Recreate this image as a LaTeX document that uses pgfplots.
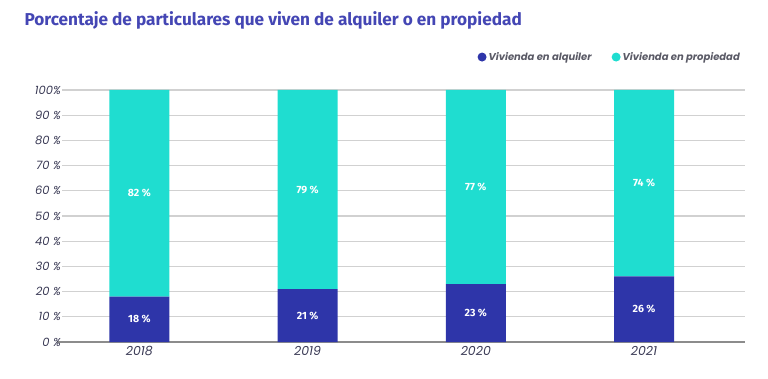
\documentclass[border=0pt]{standalone}
\usepackage{pgfplots}
\pgfplotsset{compat=1.18}
\usepackage{fontspec}
\setmainfont{Poppins}
\newfontfamily\titlefont{Fira Sans}
\newfontfamily\labfont{Fira Sans}
\definecolor{darkb}{HTML}{2E35A9}
\definecolor{tealc}{HTML}{1FDDD0}
\definecolor{titleblue}{HTML}{4446B4}
\definecolor{tickc}{HTML}{3A3A55}
\definecolor{legc}{HTML}{5A5A66}
\tikzset{vlab/.style={text=white, font=\labfont\bfseries\fontsize{10.5}{12}\selectfont}}
\begin{document}
\begin{tikzpicture}
\path (0,0) rectangle (768pt,378pt);
\node[anchor=west, text=titleblue, font=\titlefont\bfseries\fontsize{17.2}{20}\selectfont] at (21pt,358pt) {Porcentaje de particulares que viven de alquiler o en propiedad};
\begin{axis}[
 at={(62pt,36pt)}, anchor=south west,
 scale only axis, width=683pt, height=252pt,
 ybar stacked, bar width=60pt,
 xmin=-0.46, xmax=3.6, ymin=0, ymax=100,
 xtick={0,1,2,3}, xticklabels={2018,2019,2020,2021},
 ytick={0,10,20,30,40,50,60,70,80,90,100},
 yticklabels={0 \%,10 \%,20 \%,30 \%,40 \%,50 \%,60 \%,70 \%,80 \%,90 \%,100\%},
 axis lines=left,
 axis line style={-},
 y axis line style={draw=none},
 x axis line style={draw=black!45, line width=2.5pt, shorten <=-5pt},
 major tick length=0pt,
 ymajorgrids=true,
 major grid style={draw=black!18, line width=1.2pt},
 tick label style={text=tickc, font=\itshape\fontsize{11.5}{13}\selectfont},
 yticklabel style={inner sep=1pt},
 xticklabel style={font=\itshape\fontsize{12.5}{14}\selectfont, yshift=-1pt},
 legend style={at={(1,1)}, anchor=south east, yshift=24pt, draw=none, fill=none,
   font=\bfseries\itshape\fontsize{10}{12}\selectfont, text=legc, cells={anchor=west}},
 legend columns=2,
 legend image code/.code={\fill[#1] (2pt,0pt) circle (4.5pt);},
 /tikz/every even column/.append style={column sep=18pt},
 after end axis/.code={
  \node[vlab] at (axis cs:0,9) {18 \%};
  \node[vlab] at (axis cs:1,10.5) {21 \%};
  \node[vlab] at (axis cs:2,11.5) {23 \%};
  \node[vlab] at (axis cs:3,13) {26 \%};
  \node[vlab] at (axis cs:0,59) {82 \%};
  \node[vlab] at (axis cs:1,60.5) {79 \%};
  \node[vlab] at (axis cs:2,61.5) {77 \%};
  \node[vlab] at (axis cs:3,63) {74 \%};
 },
]
\addplot[fill=darkb, draw=none] coordinates {(0,18)(1,21)(2,23)(3,26)};
\addlegendentry{Vivienda en alquiler}
\addplot[fill=tealc, draw=none] coordinates {(0,82)(1,79)(2,77)(3,74)};
\addlegendentry{Vivienda en propiedad}
\end{axis}
\end{tikzpicture}
\end{document}
